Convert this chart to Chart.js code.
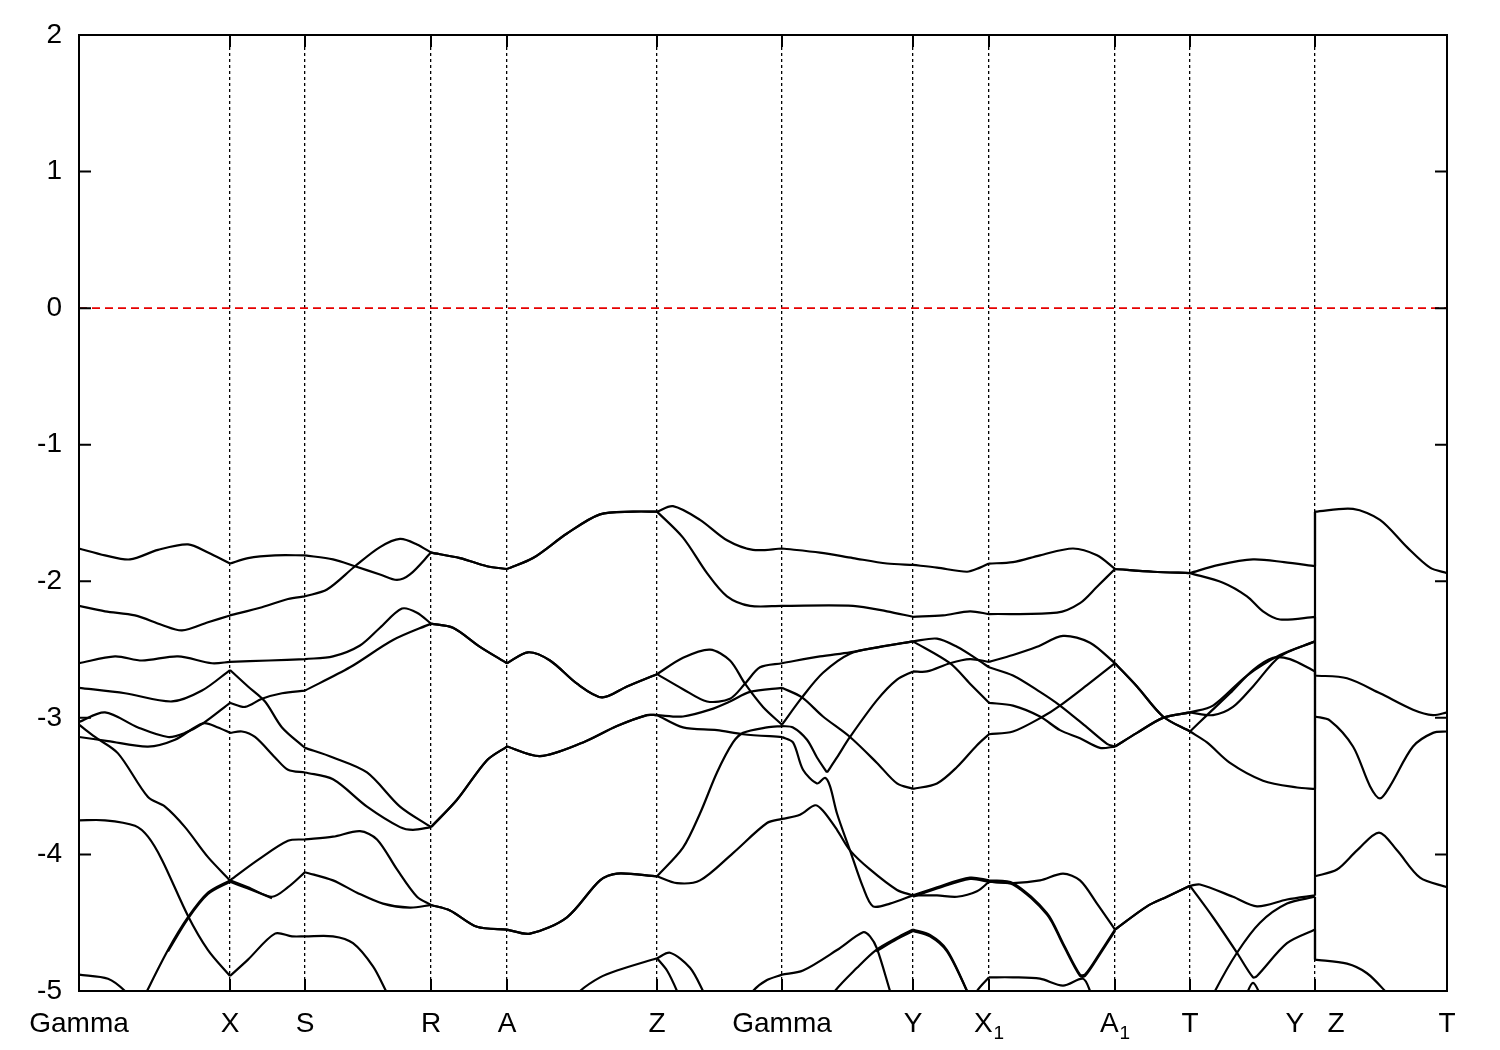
<!DOCTYPE html>
<html>
<head>
<meta charset="utf-8">
<title>Band structure</title>
<script src="https://cdn.jsdelivr.net/npm/chart.js@4.4.1/dist/chart.umd.min.js"></script>
<style>
  body { margin: 0; background: #fff; }
  #bands { display: block; }
</style>
</head>
<body>
<canvas id="bands" width="1500" height="1050"></canvas>
<script>
// high-symmetry points along the k-path (path length units)
const kLabelPos = [0, 151, 226, 352, 428, 578, 703, 834, 910, 1036, 1111, 1236, 1368];
// "_" marks a subscript
const kLabels = ['Gamma', 'X', 'S', 'R', 'A', 'Z', 'Gamma', 'Y', 'X_1', 'A_1', 'T', 'Y   Z', 'T'];
const yTicks = [-5, -4, -3, -2, -1, 0, 1, 2];
const fermiLevel = 0;

// bands: [k, E(eV)], null = break at a kink
const band01 = [
  [0,-1.76],[26,-1.81],[51,-1.84],[79,-1.77],[109,-1.73],[129,-1.79],[151,-1.87], null,
  [151,-1.87],[169,-1.83],[196,-1.81],[226,-1.81], null,
  [226,-1.81],[254,-1.84],[276,-1.89],[301,-1.95],[318,-1.99],[331,-1.95],[352,-1.79], null,
  [352,-1.79],[381,-1.83],[408,-1.89],[428,-1.91], null,
  [428,-1.91],[454,-1.83],[488,-1.65],[521,-1.51],[554,-1.49],[578,-1.49], null,
  [578,-1.49],[594,-1.45],[621,-1.55],[648,-1.70],[674,-1.77],[703,-1.76], null,
  [703,-1.76],[741,-1.79],[774,-1.83],[808,-1.87],[834,-1.88], null,
  [834,-1.88],[858,-1.90],[888,-1.93],[901,-1.90],[910,-1.87], null,
  [910,-1.87],[934,-1.86],[961,-1.81],[994,-1.76],[1018,-1.81],[1036,-1.91], null,
  [1036,-1.91],[1074,-1.93],[1111,-1.94], null,
  [1111,-1.94],[1140,-1.88],[1174,-1.84],[1205,-1.86],[1236,-1.89], null,
  [1236,-1.89],[1236,-1.49], null,
  [1236,-1.49],[1274,-1.47],[1301,-1.55],[1328,-1.75],[1351,-1.90],[1368,-1.94]
];
const band02 = [
  [0,-2.18],[26,-2.22],[56,-2.25],[83,-2.32],[103,-2.36],[129,-2.30],[151,-2.25], null,
  [151,-2.25],[183,-2.19],[209,-2.13],[226,-2.11], null,
  [226,-2.11],[248,-2.06],[276,-1.89],[301,-1.75],[321,-1.69],[338,-1.73],[352,-1.79], null,
  [352,-1.79],[381,-1.83],[408,-1.89],[428,-1.91], null,
  [428,-1.91],[454,-1.83],[488,-1.65],[521,-1.51],[554,-1.49],[578,-1.49], null,
  [578,-1.49],[604,-1.68],[628,-1.94],[648,-2.11],[671,-2.18],[703,-2.18], null,
  [703,-2.18],[774,-2.18],[808,-2.22],[834,-2.26], null,
  [834,-2.26],[864,-2.25],[891,-2.22],[910,-2.24], null,
  [910,-2.24],[978,-2.23],[1001,-2.16],[1018,-2.04],[1036,-1.91], null,
  [1036,-1.91],[1074,-1.93],[1111,-1.94], null,
  [1111,-1.94],[1144,-2.01],[1168,-2.11],[1184,-2.22],[1201,-2.28],[1236,-2.26], null,
  [1236,-2.26],[1236,-2.69], null,
  [1236,-2.69],[1268,-2.71],[1301,-2.82],[1334,-2.94],[1354,-2.98],[1368,-2.96]
];
const band03 = [
  [0,-2.60],[36,-2.55],[63,-2.58],[99,-2.55],[133,-2.60],[151,-2.59], null,
  [151,-2.59],[190,-2.58],[226,-2.57], null,
  [226,-2.57],[254,-2.55],[281,-2.47],[301,-2.34],[323,-2.20],[338,-2.23],[352,-2.31], null,
  [352,-2.31],[374,-2.34],[401,-2.48],[428,-2.60], null,
  [428,-2.60],[449,-2.52],[471,-2.58],[498,-2.75],[523,-2.85],[548,-2.77],[578,-2.68], null,
  [578,-2.68],[604,-2.56],[631,-2.50],[651,-2.58],[666,-2.75],[684,-2.92],[703,-3.05], null,
  [703,-3.05],[723,-2.85],[744,-2.67],[771,-2.53],[801,-2.48],[834,-2.44], null,
  [834,-2.44],[871,-2.60],[891,-2.75],[910,-2.89], null,
  [910,-2.89],[934,-2.91],[961,-2.99],[981,-3.09],[1001,-3.15],[1021,-3.22],[1036,-3.21], null,
  [1036,-3.21],[1058,-3.11],[1084,-3.00],[1111,-2.96], null,
  [1111,-2.96],[1134,-2.91],[1168,-2.69],[1201,-2.54],[1236,-2.44], null,
  [1236,-2.44],[1236,-1.49]
];
const band04 = [
  [0,-3.03],[26,-2.96],[59,-3.07],[89,-3.14],[106,-3.11],[124,-3.04],[151,-2.89], null,
  [151,-2.89],[166,-2.92],[183,-2.86],[203,-2.82],[226,-2.80], null,
  [226,-2.80],[271,-2.63],[314,-2.43],[352,-2.31], null,
  [352,-2.31],[374,-2.34],[401,-2.48],[428,-2.60], null,
  [428,-2.60],[449,-2.52],[471,-2.58],[498,-2.75],[523,-2.85],[548,-2.77],[578,-2.68], null,
  [578,-2.68],[604,-2.79],[628,-2.88],[651,-2.86],[666,-2.75],[681,-2.63],[703,-2.60], null,
  [703,-2.60],[741,-2.55],[771,-2.52],[801,-2.48],[834,-2.44], null,
  [834,-2.44],[858,-2.42],[878,-2.48],[898,-2.57],[910,-2.63], null,
  [910,-2.63],[934,-2.69],[961,-2.81],[981,-2.91],[1008,-3.07],[1028,-3.19],[1036,-3.21], null,
  [1036,-3.21],[1058,-3.11],[1084,-3.00],[1111,-2.96], null,
  [1111,-2.96],[1134,-2.98],[1154,-2.92],[1174,-2.77],[1201,-2.55],[1236,-2.44], null,
  [1236,-2.44],[1236,-2.99], null,
  [1236,-2.99],[1251,-3.02],[1274,-3.21],[1291,-3.50],[1301,-3.59],[1311,-3.50],[1334,-3.21],[1354,-3.11],[1368,-3.10]
];
const band05 = [
  [0,-2.78],[46,-2.82],[93,-2.88],[123,-2.80],[151,-2.65], null,
  [151,-2.65],[169,-2.77],[186,-2.88],[203,-3.07],[226,-3.22], null,
  [226,-3.22],[254,-3.29],[288,-3.40],[321,-3.65],[352,-3.80], null,
  [352,-3.80],[378,-3.60],[408,-3.31],[428,-3.21], null,
  [428,-3.21],[461,-3.28],[504,-3.18],[538,-3.06],[568,-2.98],[578,-2.98], null,
  [578,-2.98],[604,-2.99],[631,-2.94],[651,-2.88],[671,-2.81],[703,-2.78], null,
  [703,-2.78],[723,-2.85],[744,-2.99],[771,-3.14],[798,-3.33],[818,-3.48],[834,-3.52], null,
  [834,-3.52],[858,-3.48],[878,-3.36],[898,-3.20],[910,-3.12], null,
  [910,-3.12],[934,-3.10],[964,-2.99],[981,-2.91],[1008,-2.76],[1036,-2.60], null,
  [1036,-2.60],[1058,-2.77],[1084,-2.99],[1111,-3.10], null,
  [1111,-3.10],[1128,-3.18],[1151,-3.33],[1184,-3.46],[1218,-3.51],[1236,-3.52], null,
  [1236,-3.52],[1236,-2.99]
];
const band06 = [
  [0,-3.14],[29,-3.17],[69,-3.21],[96,-3.16],[124,-3.04],[139,-3.07],[151,-3.11], null,
  [151,-3.11],[163,-3.10],[176,-3.14],[196,-3.29],[209,-3.38],[226,-3.40], null,
  [226,-3.40],[254,-3.45],[288,-3.65],[321,-3.80],[334,-3.82],[352,-3.80], null,
  [352,-3.80],[378,-3.60],[408,-3.31],[428,-3.21], null,
  [428,-3.21],[461,-3.28],[504,-3.18],[538,-3.06],[568,-2.98],[578,-2.98], null,
  [578,-2.98],[604,-3.07],[638,-3.09],[664,-3.12],[703,-3.14], null,
  [703,-3.14],[714,-3.18],[724,-3.38],[738,-3.48],[746,-3.44],[751,-3.50],[758,-3.70],[771,-3.97],[784,-4.24],[794,-4.38],[811,-4.36],[834,-4.30], null,
  [834,-4.30],[858,-4.24],[891,-4.17],[910,-4.19], null,
  [910,-4.19],[934,-4.21],[968,-4.43],[984,-4.65],[1001,-4.88],[1006,-4.88],[1021,-4.72],[1036,-4.55], null,
  [1036,-4.55],[1068,-4.38],[1088,-4.31],[1111,-4.23], null,
  [1111,-4.23],[1121,-4.22],[1154,-4.31],[1178,-4.38],[1208,-4.33],[1236,-4.30], null,
  [1236,-4.30],[1236,-4.16], null,
  [1236,-4.16],[1258,-4.11],[1278,-3.97],[1300,-3.84],[1318,-3.97],[1341,-4.17],[1368,-4.24]
];
const band07 = [
  [0,-3.05],[16,-3.14],[39,-3.26],[69,-3.58],[86,-3.65],[106,-3.80],[129,-4.02],[151,-4.19], null,
  [151,-4.19],[179,-4.04],[209,-3.90],[226,-3.89], null,
  [226,-3.89],[254,-3.87],[281,-3.83],[298,-3.89],[318,-4.11],[338,-4.31],[352,-4.37], null,
  [352,-4.37],[371,-4.41],[398,-4.53],[428,-4.55], null,
  [428,-4.55],[451,-4.58],[488,-4.46],[521,-4.19],[538,-4.14],[578,-4.16], null,
  [578,-4.16],[604,-3.95],[621,-3.70],[638,-3.40],[654,-3.18],[664,-3.11],[688,-3.07],[703,-3.06], null,
  [703,-3.06],[714,-3.07],[728,-3.16],[738,-3.29],[748,-3.40], null,
  [748,-3.40],[758,-3.29],[771,-3.14],[798,-2.87],[818,-2.72],[834,-2.66], null,
  [834,-2.66],[848,-2.66],[871,-2.60],[891,-2.57],[910,-2.59], null,
  [910,-2.59],[934,-2.54],[958,-2.48],[984,-2.40],[1011,-2.45],[1036,-2.60], null,
  [1036,-2.60],[1058,-2.77],[1084,-2.99],[1111,-3.10], null,
  [1111,-3.10],[1128,-2.98],[1151,-2.82],[1174,-2.65],[1194,-2.56],[1211,-2.57],[1236,-2.66], null,
  [1236,-2.66],[1236,-4.16]
];
const band08 = [
  [63,-5.08],[68,-5.00],[89,-4.70],[109,-4.46],[129,-4.28],[151,-4.19], null,
  [151,-4.19],[169,-4.24],[193,-4.31],[209,-4.24],[226,-4.13], null,
  [226,-4.13],[254,-4.19],[278,-4.28],[304,-4.36],[331,-4.39],[352,-4.37], null,
  [352,-4.37],[371,-4.41],[398,-4.53],[428,-4.55], null,
  [428,-4.55],[451,-4.58],[488,-4.46],[521,-4.19],[538,-4.14],[578,-4.16], null,
  [578,-4.16],[598,-4.21],[621,-4.19],[654,-3.99],[688,-3.77],[703,-3.74], null,
  [703,-3.74],[721,-3.71],[736,-3.64],[744,-3.68],[758,-3.82],[771,-3.97],[791,-4.11],[818,-4.26],[834,-4.30], null,
  [834,-4.30],[858,-4.30],[878,-4.31],[898,-4.27],[910,-4.20], null,
  [910,-4.20],[934,-4.21],[961,-4.19],[984,-4.14],[1001,-4.19],[1018,-4.36],[1036,-4.55], null,
  [1036,-4.55],[1068,-4.38],[1088,-4.31],[1111,-4.23], null,
  [1111,-4.23],[1134,-4.46],[1158,-4.72],[1174,-4.90],[1178,-4.89],[1208,-4.65],[1236,-4.55], null,
  [1236,-4.55],[1236,-4.77], null,
  [1236,-4.77],[1268,-4.80],[1288,-4.87],[1306,-5.00],[1312,-5.06]
];
const band09 = [
  [0,-3.75],[26,-3.75],[56,-3.79],[69,-3.87],[83,-4.04],[109,-4.45],[129,-4.70],[151,-4.89], null,
  [151,-4.89],[169,-4.77],[196,-4.58],[213,-4.60],[226,-4.60], null,
  [226,-4.60],[254,-4.60],[274,-4.65],[294,-4.82],[307,-5.00],[312,-5.07]
];
const band10 = [[0,-4.88],[29,-4.91],[46,-5.00],[52,-5.07]];
const band11 = [
  [495,-5.07],[501,-5.00],[521,-4.90],[538,-4.85],[578,-4.76], null,
  [578,-4.76],[591,-4.72],[611,-4.83],[624,-5.00],[628,-5.07]
];
const band12 = [[578,-4.76],[588,-4.85],[598,-5.00],[601,-5.07]];
const band13 = [
  [670,-5.07],[674,-5.00],[688,-4.92],[703,-4.88], null,
  [703,-4.88],[724,-4.85],[758,-4.70],[784,-4.57],[791,-4.60],[798,-4.69],[811,-5.00],[814,-5.07]
];
const band14 = [
  [753,-5.07],[756,-5.00],[778,-4.83],[797,-4.70],[818,-4.61],[834,-4.55], null,
  [834,-4.55],[851,-4.59],[868,-4.70],[888,-5.00],[891,-5.07]
];
const band15 = [
  [797,-4.71],[818,-4.62],[834,-4.56], null,
  [834,-4.56],[851,-4.60],[868,-4.71],[888,-5.00],[891,-5.07]
];
const band16 = [
  [895,-5.07],[898,-5.00],[910,-4.90], null,
  [910,-4.90],[934,-4.90],[961,-4.91],[984,-4.96],[1004,-4.91],[1011,-5.00],[1013,-5.07]
];
const band17 = [
  [834,-4.31],[858,-4.25],[891,-4.18],[910,-4.20], null,
  [910,-4.20],[934,-4.22],[968,-4.44],[984,-4.66],[1001,-4.89],[1006,-4.89],[1021,-4.73],[1036,-4.56]
];
const band18 = [
  [1133,-5.07],[1136,-5.00],[1158,-4.72],[1181,-4.50],[1208,-4.36],[1236,-4.31], null,
  [1236,-4.31],[1236,-4.77]
];
const band19 = [[1165,-5.07],[1174,-4.94],[1184,-5.07]];
const band20 = [
  [89,-4.71],[109,-4.47],[129,-4.29],[151,-4.20], null,
  [151,-4.20],[169,-4.25],[193,-4.32]
];

const allBands = [band01, band02, band03, band04, band05, band06, band07, band08, band09, band10,
  band11, band12, band13, band14, band15, band16, band17, band18, band19, band20];

function toPoints(arr) {
  const pts = [];
  let lastX = 0;
  arr.forEach(p => {
    if (p === null) {
      pts.push({x: lastX, y: null});
    } else {
      pts.push({x: p[0], y: p[1]});
      lastX = p[0];
    }
  });
  return pts;
}

const datasets = allBands.map(b => ({
  data: toPoints(b),
  borderColor: '#000',
  borderWidth: 2.2,
  pointRadius: 0,
  tension: 0.3,
  spanGaps: false,
  fill: false
}));

datasets.push({
  data: [{x: kLabelPos[0], y: fermiLevel}, {x: kLabelPos[kLabelPos.length - 1], y: fermiLevel}],
  borderColor: 'rgb(230,0,0)',
  borderWidth: 1.6,
  borderDash: [8, 5],
  pointRadius: 0,
  tension: 0
});

const FONT = '"Liberation Sans", Arial, sans-serif';

// box on all four sides, inward tics, k-point labels with subscripts
const framePlugin = {
  id: 'frame',
  afterDraw(chart) {
    const {ctx, chartArea: a, scales} = chart;
    ctx.save();
    ctx.strokeStyle = '#000';
    ctx.lineWidth = 2;
    ctx.strokeRect(a.left, a.top, a.right - a.left, a.bottom - a.top);
    const tl = 12;
    ctx.beginPath();
    yTicks.forEach(v => {
      const py = scales.y.getPixelForValue(v);
      ctx.moveTo(a.left, py); ctx.lineTo(a.left + tl, py);
      ctx.moveTo(a.right, py); ctx.lineTo(a.right - tl, py);
    });
    kLabelPos.forEach(v => {
      const px = scales.x.getPixelForValue(v);
      ctx.moveTo(px, a.bottom); ctx.lineTo(px, a.bottom - tl);
      ctx.moveTo(px, a.top); ctx.lineTo(px, a.top + tl);
    });
    ctx.stroke();

    ctx.fillStyle = '#000';
    ctx.textBaseline = 'alphabetic';
    ctx.textAlign = 'left';
    const base = a.bottom + 41;
    kLabelPos.forEach((v, i) => {
      const parts = kLabels[i].split('_');
      ctx.font = '28px ' + FONT;
      const w1 = ctx.measureText(parts[0]).width;
      let w2 = 0;
      if (parts[1]) {
        ctx.font = '19px ' + FONT;
        w2 = ctx.measureText(parts[1]).width + 1;
      }
      const x0 = scales.x.getPixelForValue(v) - (w1 + w2) / 2;
      ctx.font = '28px ' + FONT;
      ctx.fillText(parts[0], x0, base);
      if (parts[1]) {
        ctx.font = '19px ' + FONT;
        ctx.fillText(parts[1], x0 + w1 + 1, base + 7);
      }
    });
    ctx.restore();
  }
};

const chart = new Chart(document.getElementById('bands'), {
  type: 'line',
  data: { datasets: datasets },
  options: {
    responsive: false,
    devicePixelRatio: 1,
    animation: false,
    layout: { padding: { top: 35, right: 53, left: 0, bottom: 0 } },
    plugins: { legend: { display: false }, tooltip: { enabled: false } },
    scales: {
      x: {
        type: 'linear',
        min: kLabelPos[0],
        max: kLabelPos[kLabelPos.length - 1],
        afterBuildTicks: scale => { scale.ticks = kLabelPos.map(v => ({value: v})); },
        afterFit: scale => { scale.height = 59; },
        ticks: { display: false },
        grid: { display: true, color: '#000', lineWidth: 1.3, drawTicks: false },
        border: { display: true, color: '#000', width: 2, dash: [3, 3] }
      },
      y: {
        min: -5,
        max: 2,
        afterBuildTicks: scale => { scale.ticks = yTicks.map(v => ({value: v})); },
        afterFit: scale => { scale.width = 79; },
        ticks: {
          padding: 17,
          color: '#000',
          font: { family: 'Liberation Sans', size: 28 }
        },
        grid: { display: false, drawTicks: false },
        border: { display: true, color: '#000', width: 2 }
      }
    }
  },
  plugins: [framePlugin]
});
</script>
</body>
</html>
